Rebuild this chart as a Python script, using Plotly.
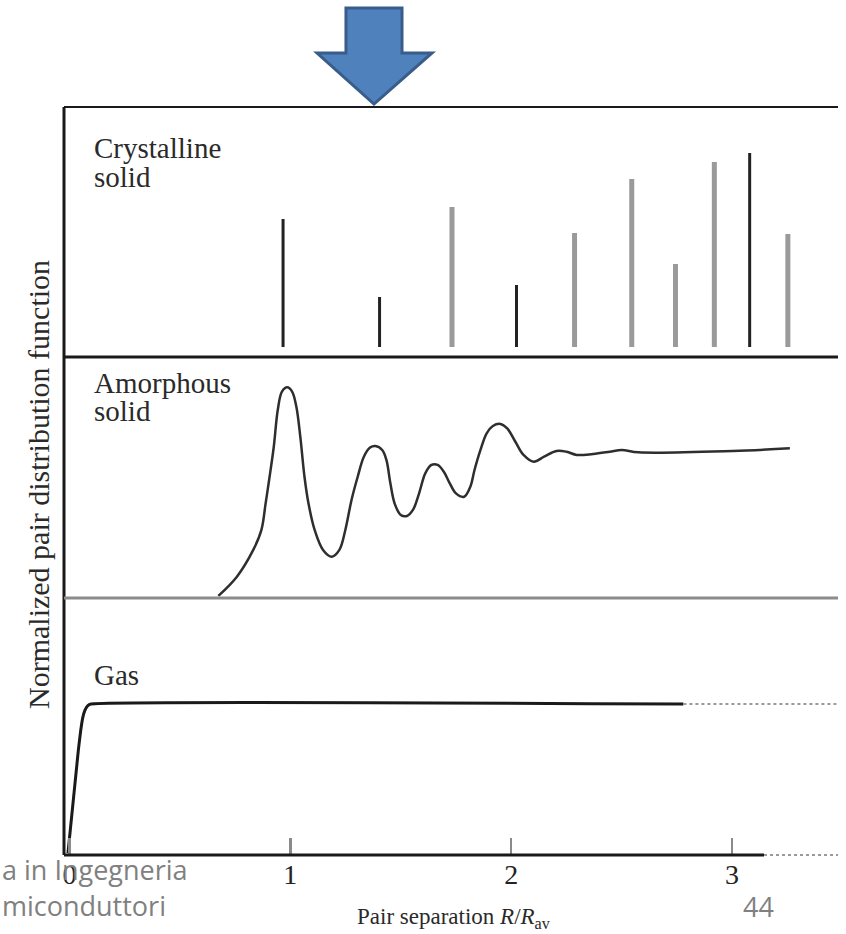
import plotly.graph_objects as go
from plotly.subplots import make_subplots

# ---------------- data ----------------
x_ticks = [0, 1, 2, 3]
x_tick_labels = ["0", "1", "2", "3"]

# Crystalline solid: discrete neighbour shells (heights in arbitrary units)
cryst_dark_r = [0.967, 1.404, 2.024, 3.080]
cryst_dark_h = [128, 50, 62, 194]
cryst_grey_r = [1.732, 2.287, 2.546, 2.744, 2.920, 3.253]
cryst_grey_h = [140, 114, 168, 83, 185, 113]

# Amorphous solid: g(R) normalised to 1 at large R
amorph_r = [0.674, 0.758, 0.832, 0.869, 0.888, 0.906, 0.925, 0.943, 0.962, 0.986,
            1.008, 1.027, 1.045, 1.064, 1.082, 1.110, 1.148, 1.188, 1.222, 1.249,
            1.277, 1.305, 1.333, 1.361, 1.385, 1.416, 1.435, 1.453, 1.472, 1.500,
            1.528, 1.555, 1.583, 1.611, 1.639, 1.667, 1.695, 1.722, 1.750, 1.787,
            1.815, 1.834, 1.861, 1.889, 1.917, 1.951, 1.982, 2.019, 2.056, 2.102,
            2.149, 2.205, 2.251, 2.297, 2.371, 2.446, 2.501, 2.576, 3.002, 3.262]
amorph_g = [0.014, 0.145, 0.327, 0.463, 0.644, 0.825, 1.029, 1.279, 1.404, 1.433,
            1.404, 1.302, 1.098, 0.825, 0.644, 0.463, 0.327, 0.281, 0.327, 0.463,
            0.667, 0.825, 0.961, 1.023, 1.034, 1.007, 0.939, 0.780, 0.644, 0.565,
            0.558, 0.599, 0.712, 0.848, 0.905, 0.905, 0.859, 0.780, 0.712, 0.689,
            0.757, 0.871, 1.007, 1.120, 1.170, 1.184, 1.154, 1.063, 0.973, 0.927,
            0.961, 1.000, 0.995, 0.973, 0.980, 0.995, 1.007, 0.991, 1.000, 1.018]

# Gas: g(R)
gas_r = [-0.007, 0.040, 0.051, 0.060, 0.070, 0.083, 0.097, 2.78]
gas_g = [0.013, 0.695, 0.828, 0.910, 0.960, 0.990, 1.000, 1.000]
gas_tail_r = [2.78, 3.48]
gas_tail_g = [1.000, 1.000]

# ---------------- geometry ----------------
W, H = 846, 934
ML, MR, MT, MB = 64, 8, 107, 79
PW, PH = W - ML - MR, H - MT - MB


def px(xp):
    return (xp - ML) / PW


def py(yp):
    return (H - MB - yp) / PH


d_top = py(357)
d_mid = py(598)

fig = make_subplots(rows=3, cols=1, shared_xaxes=True, vertical_spacing=0)

SERIF = "Liberation Serif, Times New Roman, serif"


def stems(rs, hs):
    xs, ys = [], []
    for r, h in zip(rs, hs):
        xs += [r, r, None]
        ys += [0, h, None]
    return xs, ys


xs, ys = stems(cryst_grey_r, cryst_grey_h)
fig.add_trace(go.Scatter(x=xs, y=ys, mode="lines",
                         line=dict(color="#9a9a9a", width=5), hoverinfo="skip"), row=1, col=1)
xs, ys = stems(cryst_dark_r, cryst_dark_h)
fig.add_trace(go.Scatter(x=xs, y=ys, mode="lines",
                         line=dict(color="#222222", width=3), hoverinfo="skip"), row=1, col=1)

fig.add_trace(go.Scatter(x=amorph_r, y=amorph_g, mode="lines",
                         line=dict(color="#2e2e2e", width=2.5, shape="spline", smoothing=1.0),
                         hoverinfo="skip"), row=2, col=1)

fig.add_trace(go.Scatter(x=gas_r, y=gas_g, mode="lines",
                         line=dict(color="#1a1a1a", width=3, shape="spline", smoothing=0.5),
                         hoverinfo="skip"), row=3, col=1)
fig.add_trace(go.Scatter(x=gas_tail_r, y=gas_tail_g, mode="lines",
                         line=dict(color="#9a9a9a", width=2, dash="dot"),
                         hoverinfo="skip"), row=3, col=1)

xrange = [-0.025, 3.48]
for i in (1, 2, 3):
    fig.update_xaxes(range=xrange, showgrid=False, zeroline=False, showline=False,
                     row=i, col=1)
fig.update_xaxes(showticklabels=False, ticks="", row=1, col=1)
fig.update_xaxes(showticklabels=False, ticks="", row=2, col=1)
fig.update_xaxes(tickmode="array", tickvals=x_ticks, ticktext=x_tick_labels,
                 ticks="inside", ticklen=17, tickwidth=2.5, tickcolor="#8a8a8a",
                 showticklabels=True, tickfont=dict(family=SERIF, size=28, color="#222"),
                 row=3, col=1)

fig.update_yaxes(visible=False, showgrid=False, zeroline=False)
fig.update_layout(
    yaxis=dict(domain=[d_top, 1], range=[-10, 240]),
    yaxis2=dict(domain=[d_mid, d_top], range=[0, 241 / 147]),
    yaxis3=dict(domain=[0, d_mid], range=[0, 257 / 151]),
)

shapes = [
    dict(type="line", xref="paper", yref="paper", x0=0, x1=0, y0=0, y1=1,
         line=dict(color="#1a1a1a", width=3)),
    dict(type="line", xref="paper", yref="paper", x0=0, x1=1, y0=1, y1=1,
         line=dict(color="#1a1a1a", width=2)),
    dict(type="line", xref="paper", yref="paper", x0=0, x1=1, y0=d_top, y1=d_top,
         line=dict(color="#1a1a1a", width=3)),
    dict(type="line", xref="paper", yref="paper", x0=0, x1=1, y0=d_mid, y1=d_mid,
         line=dict(color="#8c8c8c", width=3)),
    dict(type="line", xref="paper", yref="paper", x0=0, x1=px(764), y0=0, y1=0,
         line=dict(color="#1a1a1a", width=3)),
    dict(type="line", xref="paper", yref="paper", x0=px(764), x1=1, y0=0, y1=0,
         line=dict(color="#9a9a9a", width=2, dash="dot")),
]

arrow_pts = [(346, 8), (402, 8), (402, 53), (432, 53), (374, 104), (317, 53), (346, 53)]
path = "M " + " L ".join(f"{px(a):.4f} {py(b):.4f}" for a, b in arrow_pts) + " Z"
shapes.append(dict(type="path", xref="paper", yref="paper", path=path,
                   fillcolor="#4F81BD", line=dict(color="#385D8A", width=3)))

ann = []


def label(text, x, y, size=29, anchor="left", color="#2a2a2a", family=SERIF, angle=0):
    ann.append(dict(text=text, x=px(x), y=py(y), xref="paper", yref="paper",
                    xanchor=anchor, yanchor="middle", showarrow=False, textangle=angle,
                    font=dict(family=family, size=size, color=color)))


label("Crystalline", 92, 148)
label("solid", 92, 177)
label("Amorphous", 92, 383)
label("solid", 92, 411)
label("Gas", 92, 675)
label("Normalized pair distribution function", 38, 485, size=30, anchor="center", angle=-90)
label("Pair separation <i>R</i>/<i>R</i><sub>av</sub>", 454, 918, size=23, anchor="center")

SANS = "Open Sans, Noto Sans, sans-serif"
label("a in Ingegneria", 0, 869, size=27, color="#808080", family=SANS)
label("miconduttori", 0, 905, size=27, color="#808080", family=SANS)
label("44", 758, 906, size=27, anchor="center", color="#808080", family=SANS)

fig.update_layout(
    width=W, height=H, margin=dict(l=ML, r=MR, t=MT, b=MB),
    paper_bgcolor="white", plot_bgcolor="white", showlegend=False,
    shapes=shapes, annotations=ann,
)

fig.write_html("out.html",
               config={"displayModeBar": False, "staticPlot": True},
               post_script="document.body.style.margin='0px';"
                           "document.body.style.overflow='hidden';")
